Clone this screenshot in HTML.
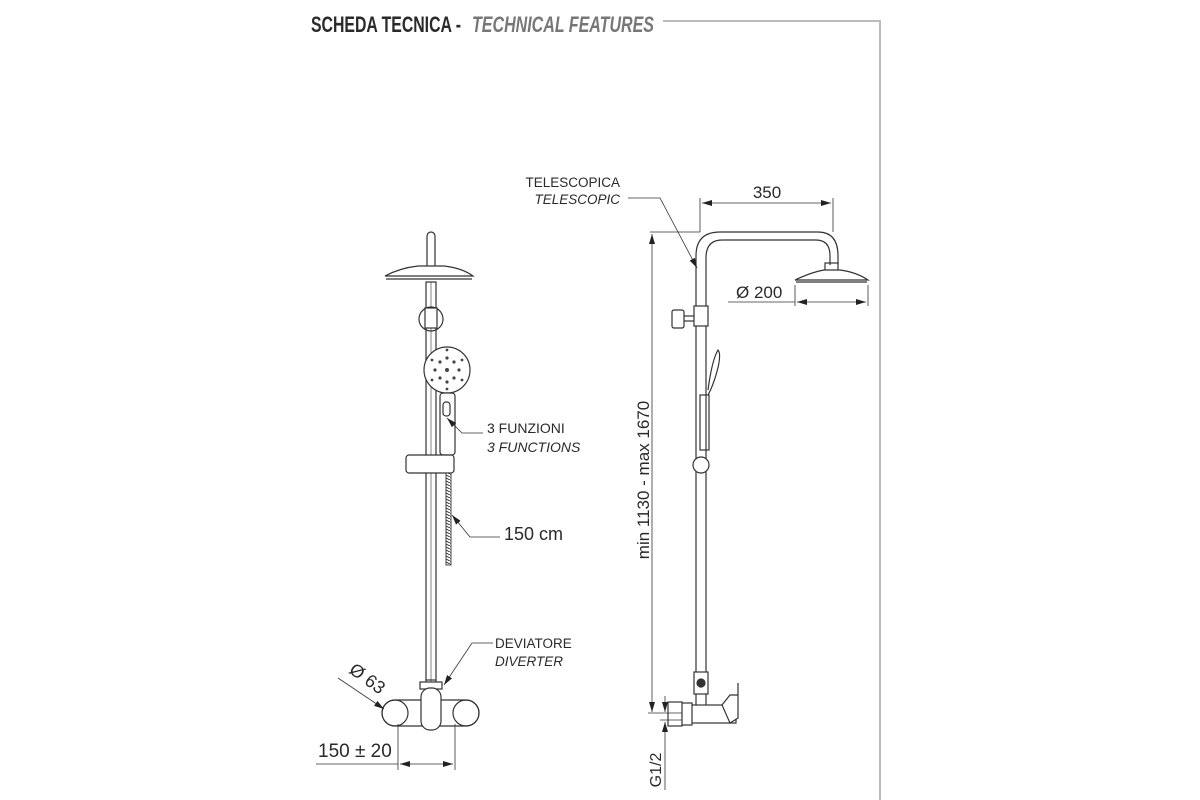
<!DOCTYPE html>
<html><head><meta charset="utf-8"><style>
html,body{margin:0;padding:0;background:#fff;}
svg{display:block;}
text{font-family:"Liberation Sans",sans-serif;fill:#2a2a2a;}
</style></head><body>
<svg width="1200" height="800" viewBox="0 0 1200 800" xmlns="http://www.w3.org/2000/svg">
<defs>
<marker id="a" viewBox="0 0 10 6" refX="10" refY="3" markerWidth="10" markerHeight="6" orient="auto-start-reverse" markerUnits="userSpaceOnUse"><path d="M0,0 L10,3 L0,6 Z" fill="#222"/></marker>
<pattern id="h" width="6" height="3" patternUnits="userSpaceOnUse"><rect width="6" height="3" fill="#fff"/><line x1="0" y1="0" x2="6" y2="3" stroke="#333" stroke-width="1"/></pattern>
</defs>
<rect width="1200" height="800" fill="#fff"/>
<text x="311" y="32" font-size="22" font-weight="bold" style="font-family:'Liberation Sans Narrow','Liberation Sans',sans-serif" textLength="150" lengthAdjust="spacingAndGlyphs" fill="#333">SCHEDA TECNICA -</text>
<text x="472" y="32" font-size="22" font-weight="bold" font-style="italic" style="font-family:'Liberation Sans Narrow','Liberation Sans',sans-serif;fill:#777" textLength="182" lengthAdjust="spacingAndGlyphs">TECHNICAL FEATURES</text>
<path d="M663 21 H880 V800" fill="none" stroke="#bbb" stroke-width="2"/>

<g fill="none" stroke="#333" stroke-width="1.2">
<rect x="427" y="232" width="8" height="38" rx="4" fill="#fff"/>
<path d="M385 276 Q400 268 418 266 H444 Q462 268 473 276 Z" fill="#fff"/>
<line x1="386" y1="279" x2="472" y2="279"/>
<rect x="426" y="282" width="10" height="420" fill="#fff"/>
<line x1="431" y1="282" x2="431" y2="700" stroke-width="0.6"/>
<circle cx="431" cy="319" r="12"/>
<rect x="425" y="308" width="12" height="20" fill="#fff"/>
<circle cx="447" cy="370" r="23" fill="#fff"/>
<g fill="#444" stroke="none">
<circle cx="447" cy="370" r="2"/><circle cx="440" cy="362" r="1.6"/><circle cx="454" cy="362" r="1.6"/><circle cx="440" cy="378" r="1.6"/><circle cx="454" cy="378" r="1.6"/><circle cx="447" cy="358" r="1.6"/><circle cx="447" cy="382" r="1.6"/><circle cx="435" cy="370" r="1.6"/><circle cx="459" cy="370" r="1.6"/><circle cx="432" cy="360" r="1.4"/><circle cx="462" cy="360" r="1.4"/><circle cx="432" cy="380" r="1.4"/><circle cx="462" cy="380" r="1.4"/><circle cx="447" cy="350" r="1.4"/><circle cx="447" cy="389" r="1.4"/>
</g>
<rect x="440" y="393" width="15" height="62" rx="3" fill="#fff"/>
<rect x="443" y="402" width="7" height="14" rx="3"/>
<rect x="406" y="455" width="48" height="18" rx="3" fill="#fff"/>
<rect x="446" y="473" width="5" height="92" fill="url(#h)" stroke-width="0.9"/>
<line x1="426" y1="680" x2="436" y2="680"/>
<rect x="420" y="682" width="22" height="7" fill="#fff"/>
<path d="M395 700 H466 A13 13 0 0 1 466 726 H395 A13 13 0 0 1 395 700 Z" fill="#fff"/>
<circle cx="395" cy="713" r="13"/><circle cx="466" cy="713" r="13"/>
<rect x="421" y="688" width="20" height="42" rx="9" fill="#fff"/>
<line x1="398" y1="724" x2="398" y2="770" stroke-width="0.8"/>
<line x1="455" y1="724" x2="455" y2="770" stroke-width="0.8"/>
<line x1="316" y1="764" x2="398" y2="764" stroke-width="0.8"/>
<line x1="400" y1="764" x2="453" y2="764" stroke-width="0.8" marker-start="url(#a)" marker-end="url(#a)"/>
<line x1="338" y1="678" x2="384" y2="709" stroke-width="0.8" marker-end="url(#a)"/>
<polyline points="483,433 462,433 447,418" stroke-width="0.8" marker-end="url(#a)"/>
<polyline points="500,537 470,537 452,515" stroke-width="0.8" marker-end="url(#a)"/>
<polyline points="493,643 472,643 444,685" stroke-width="0.8" marker-end="url(#a)"/>

<path d="M696 720 V256 Q696 232 720 232 H818 Q838 232 838 256 V265" fill="#fff"/>
<path d="M706 720 V258 Q706 240 722 240 H816 Q830 240 830 256 V265"/>
<rect x="825" y="263" width="13" height="8"/>
<path d="M795 280 Q812 272 824 270 H840 Q856 272 868 280 Z" fill="#fff"/>
<line x1="796" y1="282" x2="867" y2="282"/>
<rect x="694" y="306" width="14" height="20" fill="#fff"/>
<line x1="684" y1="316" x2="694" y2="316"/><line x1="684" y1="321" x2="694" y2="321"/>
<rect x="672" y="310" width="12" height="18" rx="2" fill="#fff"/>
<path d="M708 390 Q712 360 718 350 Q722 355 716 375 Q712 388 708 395" fill="#fff"/>
<rect x="700" y="395" width="9" height="55"/>
<circle cx="701" cy="465" r="8" fill="#fff"/>
<rect x="694" y="672" width="14" height="22" fill="#fff"/>
<circle cx="701" cy="683" r="4" fill="#333"/>
<rect x="684" y="705" width="52" height="18" fill="#fff"/>
<rect x="680" y="703" width="12" height="22" fill="#fff"/>
<rect x="668" y="702" width="14" height="24" fill="#fff"/>
<path d="M722 705 L730 695 H738 V683 V718 L730 723 Z" fill="#fff"/>
<line x1="650" y1="232" x2="700" y2="232" stroke-width="0.8"/>
<line x1="652" y1="234" x2="652" y2="712" stroke-width="0.8" marker-start="url(#a)" marker-end="url(#a)"/>
<line x1="648" y1="713" x2="682" y2="713" stroke-width="0.8"/>
<line x1="660" y1="720" x2="682" y2="720" stroke-width="0.8"/>
<line x1="665" y1="696" x2="665" y2="712" stroke-width="0.8" marker-end="url(#a)"/>
<line x1="665" y1="740" x2="665" y2="722" stroke-width="0.8" marker-end="url(#a)"/>
<line x1="665" y1="740" x2="665" y2="790" stroke-width="0.8"/>
<line x1="700" y1="198" x2="700" y2="232" stroke-width="0.8"/>
<line x1="833" y1="198" x2="833" y2="232" stroke-width="0.8"/>
<line x1="702" y1="203" x2="831" y2="203" stroke-width="0.8" marker-start="url(#a)" marker-end="url(#a)"/>
<line x1="868" y1="285" x2="868" y2="306" stroke-width="0.8"/>
<line x1="795" y1="285" x2="795" y2="306" stroke-width="0.8"/>
<line x1="728" y1="302" x2="795" y2="302" stroke-width="0.8"/>
<line x1="797" y1="302" x2="866" y2="302" stroke-width="0.8" marker-start="url(#a)" marker-end="url(#a)"/>
<polyline points="628,198 660,198 697,268" stroke-width="0.8" marker-end="url(#a)"/>
</g>

<text x="318" y="757" font-size="19">150 ± 20</text>
<text x="0" y="0" font-size="18" transform="translate(348,672) rotate(36)">Ø 63</text>
<text x="487" y="433" font-size="14">3 FUNZIONI</text>
<text x="487" y="452" font-size="14" font-style="italic">3 FUNCTIONS</text>
<text x="504" y="540" font-size="18">150 cm</text>
<text x="495" y="648" font-size="13.5">DEVIATORE</text>
<text x="495" y="666" font-size="13.5" font-style="italic">DIVERTER</text>
<text x="620" y="187" font-size="13.5" text-anchor="end">TELESCOPICA</text>
<text x="620" y="204" font-size="13.5" text-anchor="end" font-style="italic">TELESCOPIC</text>
<text x="767" y="198" font-size="17" text-anchor="middle">350</text>
<text x="736" y="298" font-size="17">Ø 200</text>
<text x="0" y="0" font-size="17" text-anchor="middle" transform="translate(649,480) rotate(-90)">min 1130  -  max 1670</text>
<text x="0" y="0" font-size="16" text-anchor="middle" transform="translate(661,770) rotate(-90)">G1/2</text>
</svg>
</body></html>
